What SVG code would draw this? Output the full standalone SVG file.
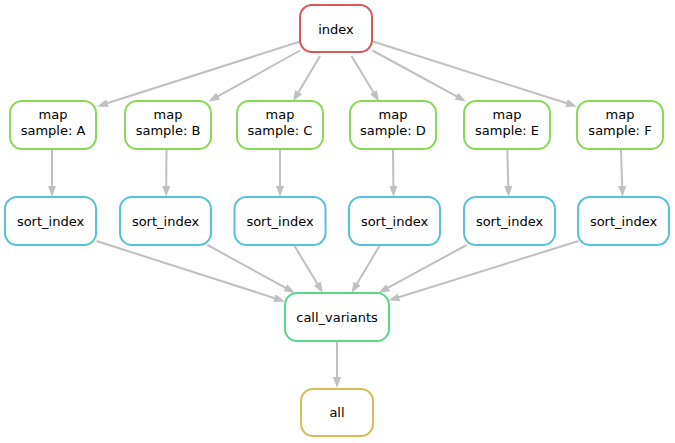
<svg xmlns="http://www.w3.org/2000/svg" width="675" height="443" viewBox="0 0 675 443">
<defs>
<marker id="ah" markerUnits="userSpaceOnUse" markerWidth="11" markerHeight="8" refX="2" refY="4" orient="auto">
<path d="M0,0 L11,4 L0,8 z" fill="#c0c0c0"/>
</marker>
<style>
.n rect{fill:#fff;stroke-width:2}
.n text{font-family:"DejaVu Sans",sans-serif;font-size:13px;text-anchor:middle;fill:#000}
.idx rect{stroke:#d95757}
.map rect{stroke:#88d957}
.srt rect{stroke:#57c1d9}
.cv rect{stroke:#57d98b}
.all rect{stroke:#d9bc57}
#edges path{stroke:#c0c0c0;stroke-width:2;fill:none;marker-end:url(#ah)}
</style>
</defs>
<rect width="675" height="443" fill="#fff"/>
<g id="edges">
<path d="M300,41.5 L105.6,103.8"/>
<path d="M300,50.5 L216.4,97.1"/>
<path d="M320,56 L297.6,93.8"/>
<path d="M351.5,56 L374.3,93.8"/>
<path d="M372.5,50.5 L458.1,97.2"/>
<path d="M373,41.5 L568.4,103.8"/>
<path d="M52,149 L52,188"/>
<path d="M166.5,149 L166.2,188"/>
<path d="M280,149 L280,188"/>
<path d="M393,149 L393.4,188"/>
<path d="M507.3,149 L508.3,188"/>
<path d="M621,149 L622.2,188"/>
<path d="M96.5,241 L276.4,298.7"/>
<path d="M207.5,245 L287.1,288.7"/>
<path d="M294,245 L318.3,285.3"/>
<path d="M380,245 L356.1,285.3"/>
<path d="M466.5,245 L386.4,288.7"/>
<path d="M578.5,241 L397.1,297.8"/>
<path d="M337,342 L337,379"/>
</g>
<g id="index" class="n idx"><rect x="300" y="5" width="72" height="47" rx="12"/><text x="336" y="33.5">index</text></g>
<g id="map_A" class="n map"><rect x="10" y="101" width="86" height="48" rx="12"/><text x="53" y="119">map</text><text x="53" y="135">sample: A</text></g>
<g id="map_B" class="n map"><rect x="125" y="101" width="86" height="48" rx="12"/><text x="168" y="119">map</text><text x="168" y="135">sample: B</text></g>
<g id="map_C" class="n map"><rect x="237" y="101" width="86" height="48" rx="12"/><text x="280" y="119">map</text><text x="280" y="135">sample: C</text></g>
<g id="map_D" class="n map"><rect x="350" y="101" width="86" height="48" rx="12"/><text x="393" y="119">map</text><text x="393" y="135">sample: D</text></g>
<g id="map_E" class="n map"><rect x="464" y="101" width="86" height="48" rx="12"/><text x="507" y="119">map</text><text x="507" y="135">sample: E</text></g>
<g id="map_F" class="n map"><rect x="577" y="101" width="86" height="48" rx="12"/><text x="620" y="119">map</text><text x="620" y="135">sample: F</text></g>
<g id="sort_A" class="n srt"><rect x="5" y="197" width="91" height="48" rx="12"/><text x="50.5" y="225.5">sort_index</text></g>
<g id="sort_B" class="n srt"><rect x="120" y="197" width="91" height="48" rx="12"/><text x="165.5" y="225.5">sort_index</text></g>
<g id="sort_C" class="n srt"><rect x="234.5" y="197" width="91" height="48" rx="12"/><text x="280" y="225.5">sort_index</text></g>
<g id="sort_D" class="n srt"><rect x="349" y="197" width="91" height="48" rx="12"/><text x="394.5" y="225.5">sort_index</text></g>
<g id="sort_E" class="n srt"><rect x="464" y="197" width="91" height="48" rx="12"/><text x="509.5" y="225.5">sort_index</text></g>
<g id="sort_F" class="n srt"><rect x="578" y="197" width="91" height="48" rx="12"/><text x="623.5" y="225.5">sort_index</text></g>
<g id="call_variants" class="n cv"><rect x="285" y="293" width="104" height="48" rx="12"/><text x="337" y="321.5">call_variants</text></g>
<g id="all" class="n all"><rect x="301" y="389" width="72" height="47" rx="12"/><text x="337" y="417">all</text></g>
</svg>
